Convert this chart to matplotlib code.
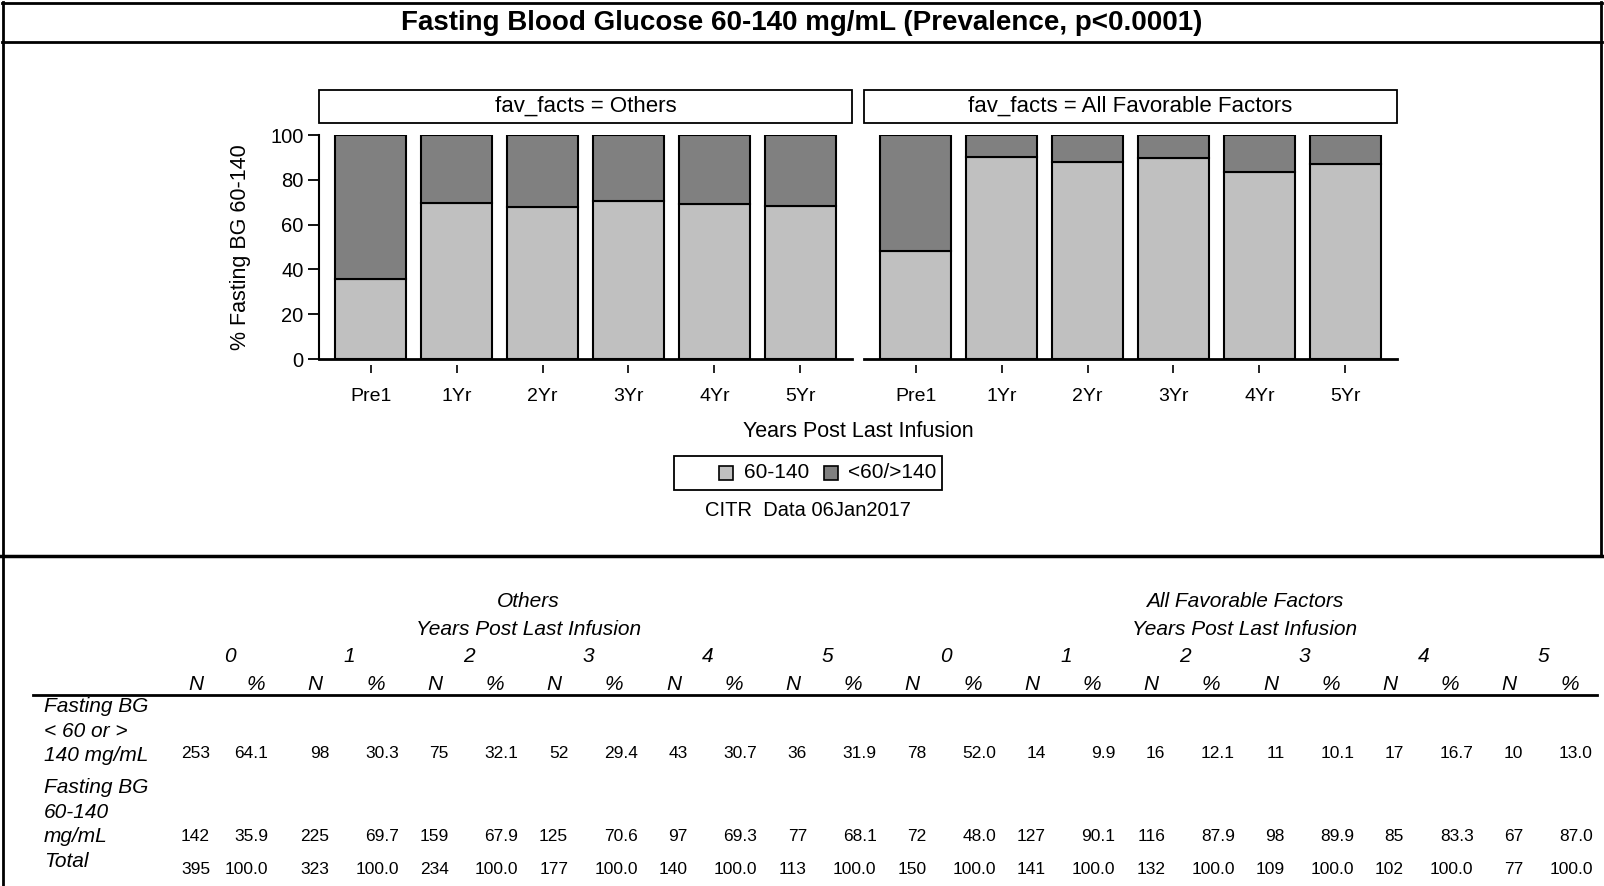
import numpy as np
import matplotlib
matplotlib.use('Agg')
import matplotlib.pyplot as plt
from matplotlib.patches import Rectangle
from matplotlib.lines import Line2D
from matplotlib.transforms import Affine2D

plt.rcParams['font.family'] = ['Liberation Sans', 'DejaVu Sans']

years = ['Pre1', '1Yr', '2Yr', '3Yr', '4Yr', '5Yr']
year_nums = ['0', '1', '2', '3', '4', '5']
groups = ['Others', 'All Favorable Factors']

others_pct_ok = [35.9, 69.7, 67.9, 70.6, 69.3, 68.1]
others_pct_out = [64.1, 30.3, 32.1, 29.4, 30.7, 31.9]
aff_pct_ok = [48.0, 90.1, 87.9, 89.9, 83.3, 87.0]
aff_pct_out = [52.0, 9.9, 12.1, 10.1, 16.7, 13.0]

others_n_out = [253, 98, 75, 52, 43, 36]
others_n_ok = [142, 225, 159, 125, 97, 77]
others_n_tot = [395, 323, 234, 177, 140, 113]
aff_n_out = [78, 14, 16, 11, 17, 10]
aff_n_ok = [72, 127, 116, 98, 85, 67]
aff_n_tot = [150, 141, 132, 109, 102, 77]

row_labels = [['Fasting BG', '< 60 or >', '140 mg/mL'],
              ['Fasting BG', '60-140', 'mg/mL'],
              ['Total']]

LIGHT = '#c0c0c0'
DARK = '#808080'

W, H = 1604, 886
fig = plt.figure(figsize=(W / 100, H / 100), dpi=100)
# pixel coords measured from top-left
pix = Affine2D().scale(1 / W, -1 / H).translate(0, 1) + fig.transFigure


def hline(x0, x1, y, lw):
    fig.add_artist(Line2D([x0, x1], [y, y], transform=pix, color='black', lw=lw))


def vline(x, y0, y1, lw):
    fig.add_artist(Line2D([x, x], [y0, y1], transform=pix, color='black', lw=lw))


# frame
hline(2, 1602, 3, 2)
hline(2, 1602, 42, 2)
vline(3, 2, 886, 2)
vline(1601, 2, 556, 2)
hline(0, 1604, 556, 2.5)

fig.text(802, 23, 'Fasting Blood Glucose 60-140 mg/mL (Prevalence, p<0.0001)',
         transform=pix, ha='center', va='center', fontsize=20, fontweight='bold')

panels = [(319, others_pct_ok, others_pct_out, groups[0]),
          (864, aff_pct_ok, aff_pct_out, groups[1])]
x = np.arange(len(years))
for i, (left, ok, out, grp) in enumerate(panels):
    ax = fig.add_axes([left / W, 1 - 359 / H, 533 / W, 224 / H])
    ax.patch.set_alpha(0)
    ax.bar(x, ok, width=0.83, color=LIGHT, edgecolor='black', linewidth=1.5)
    ax.bar(x, out, bottom=ok, width=0.83, color=DARK, edgecolor='black', linewidth=1.5)
    ax.set_xlim(-0.6, 5.6)
    ax.set_ylim(0, 100)
    for s in ['top', 'right']:
        ax.spines[s].set_visible(False)
    ax.spines['bottom'].set_position(('outward', 4))
    ax.spines['bottom'].set_visible(False)
    ax.axhline(0, color='black', lw=2, clip_on=False)
    ax.set_xticks(x)
    ax.set_xticklabels(years)
    ax.tick_params(axis='x', length=6, width=1.2, pad=11, labelsize=14)
    if i == 0:
        ax.set_yticks([0, 20, 40, 60, 80, 100])
        ax.tick_params(axis='y', length=8, width=1.3, pad=3, labelsize=14.5)
        ax.spines['left'].set_linewidth(1.5)
        ax.set_ylabel('% Fasting BG 60-140', fontsize=15.5)
        ax.yaxis.set_label_coords(-0.128, 0.5)
    else:
        ax.spines['left'].set_visible(False)
        ax.set_yticks([])
    # strip header
    fig.add_artist(Rectangle((left, 90), 533, 33, transform=pix, fill=False,
                             edgecolor='black', lw=1.3))
    fig.text(left + 266.5, 106.5, 'fav_facts = ' + grp, transform=pix,
             ha='center', va='center', fontsize=16)

fig.text(858, 432, 'Years Post Last Infusion', transform=pix, ha='center',
         va='center', fontsize=15.5)

# legend
fig.add_artist(Rectangle((674, 456), 268, 34, transform=pix, fill=False,
                         edgecolor='black', lw=1.3))
for sx, tx, col, lab in [(719, 744, LIGHT, '60-140'), (824, 848, DARK, '<60/>140')]:
    fig.add_artist(Rectangle((sx, 466), 14, 14, transform=pix, facecolor=col,
                             edgecolor='black', lw=1.2))
    fig.text(tx, 473, lab, transform=pix, ha='left', va='center', fontsize=15)

fig.text(808, 511, 'CITR  Data 06Jan2017', transform=pix, ha='center',
         va='center', fontsize=14.5)

# table
step = 119.4
n_all = [others_n_out + aff_n_out, others_n_ok + aff_n_ok, others_n_tot + aff_n_tot]
pct_all = [others_pct_out + aff_pct_out, others_pct_ok + aff_pct_ok,
           [100.0] * 12]
row_y = [754, 837, 870]
label_top = [707, 788, 862]

for g, grp in enumerate(groups):
    cx = 230 + (g * 6 + 2.5) * step
    fig.text(cx, 602, grp, transform=pix, ha='center', va='center',
             fontsize=15, style='italic')
    fig.text(cx, 630, 'Years Post Last Infusion', transform=pix, ha='center',
             va='center', fontsize=15, style='italic')

for k in range(12):
    fig.text(230 + k * step, 657, year_nums[k % 6], transform=pix, ha='center',
             va='center', fontsize=15, style='italic')
    fig.text(196 + k * step, 685, 'N', transform=pix, ha='center',
             va='center', fontsize=15, style='italic')
    fig.text(256 + k * step, 685, '%', transform=pix, ha='center',
             va='center', fontsize=15, style='italic')
    n_right = 210 + k * step
    pct_right = 268 if k == 0 else 399 + (k - 1) * step
    for r in range(3):
        fig.text(n_right, row_y[r], str(n_all[r][k]), transform=pix,
                 ha='right', va='center', fontsize=12.5)
        fig.text(pct_right, row_y[r], f'{pct_all[r][k]:.1f}', transform=pix,
                 ha='right', va='center', fontsize=12.5)

hline(33, 1597, 695, 2)

for r, lines in enumerate(row_labels):
    for j, s in enumerate(lines):
        fig.text(44, label_top[r] + j * 24.5, s, transform=pix, ha='left',
                 va='center', fontsize=15, style='italic')

fig.savefig('out.png', dpi=100)
